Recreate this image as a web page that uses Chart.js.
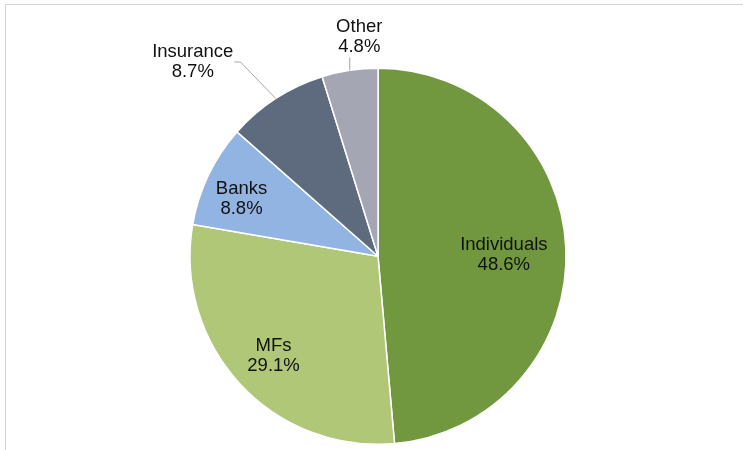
<!DOCTYPE html>
<html>
<head>
<meta charset="utf-8">
<script src="https://cdn.jsdelivr.net/npm/chart.js@4.4.0/dist/chart.umd.min.js"></script>
<style>
  html, body { margin: 0; padding: 0; background: #fff; }
  #wrap { position: relative; width: 743px; height: 450px; overflow: hidden; }
  #frame {
    position: absolute; left: 5px; top: 4px; right: -10px; bottom: -10px;
    border-left: 1px solid #d4d4d4; border-top: 1px solid #d4d4d4;
  }
  #pie { position: absolute; left: 0; top: 0; }
</style>
</head>
<body>
<div id="wrap">
  <div id="frame"></div>
  <canvas id="pie" width="743" height="450"></canvas>
</div>
<script>
// dữ liệu biểu đồ
const categories = ["Individuals", "MFs", "Banks", "Insurance", "Other"];
const shares = [48.6, 29.1, 8.8, 8.7, 4.8];
const sliceColors = ["#71983e", "#afc777", "#92b4e2", "#5e6b7e", "#a4a7b3"];

// vị trí nhãn: r = tỉ lệ bán kính, dx/dy = dịch chuyển (px)
const labelPlace = [
  { r: 0.67, dx: 0, dy: 4 },
  { r: 0.77, dx: 2, dy: 1.5 },
  { r: 0.79, dx: -2.5, dy: 6.5 },
  { r: 1, dx: -83, dy: -36.5, leader: "side" },
  { r: 1, dx: 9.5, dy: -33.4, leader: "below" },
];

const FONT = '18.5px "Liberation Sans", Arial, sans-serif';
const LINE_H = 20;

const pieLabels = {
  id: "pieLabels",
  afterDatasetsDraw(chart) {
    const ctx = chart.ctx;
    const meta = chart.getDatasetMeta(0);
    ctx.save();
    ctx.font = FONT;
    ctx.textAlign = "center";
    ctx.textBaseline = "middle";
    meta.data.forEach((arc, i) => {
      const p = arc.getProps(["x", "y", "startAngle", "endAngle", "outerRadius"], true);
      const mid = (p.startAngle + p.endAngle) / 2;
      const place = labelPlace[i];
      const ex = p.x + Math.cos(mid) * p.outerRadius * place.r;
      const ey = p.y + Math.sin(mid) * p.outerRadius * place.r;
      const cx = ex + place.dx;
      const cy = ey + place.dy;
      const line1 = categories[i];
      const line2 = shares[i].toFixed(1) + "%";

      if (place.leader) {
        ctx.strokeStyle = "#a6a6a6";
        ctx.lineWidth = 1;
        ctx.beginPath();
        ctx.moveTo(ex, ey);
        if (place.leader === "side") {
          const w = Math.max(ctx.measureText(line1).width, ctx.measureText(line2).width);
          const right = cx + w / 2;
          ctx.lineTo(right + 7, cy);
          ctx.lineTo(right + 1, cy);
        } else {
          ctx.lineTo(ex, cy + LINE_H + 0.5);
        }
        ctx.stroke();
      }

      ctx.fillStyle = "#111";
      ctx.fillText(line1, cx, cy - LINE_H / 2);
      ctx.fillText(line2, cx, cy + LINE_H / 2);
    });
    ctx.restore();
  },
};

new Chart(document.getElementById("pie"), {
  type: "pie",
  data: {
    labels: categories,
    datasets: [
      {
        data: shares,
        backgroundColor: sliceColors,
        borderColor: "#ffffff",
        borderWidth: 1.5,
      },
    ],
  },
  options: {
    responsive: false,
    animation: false,
    layout: { padding: { top: 67.5, bottom: 5, left: 13, right: 0 } },
    plugins: {
      legend: { display: false },
      tooltip: { enabled: false },
    },
  },
  plugins: [pieLabels],
});
</script>
</body>
</html>
